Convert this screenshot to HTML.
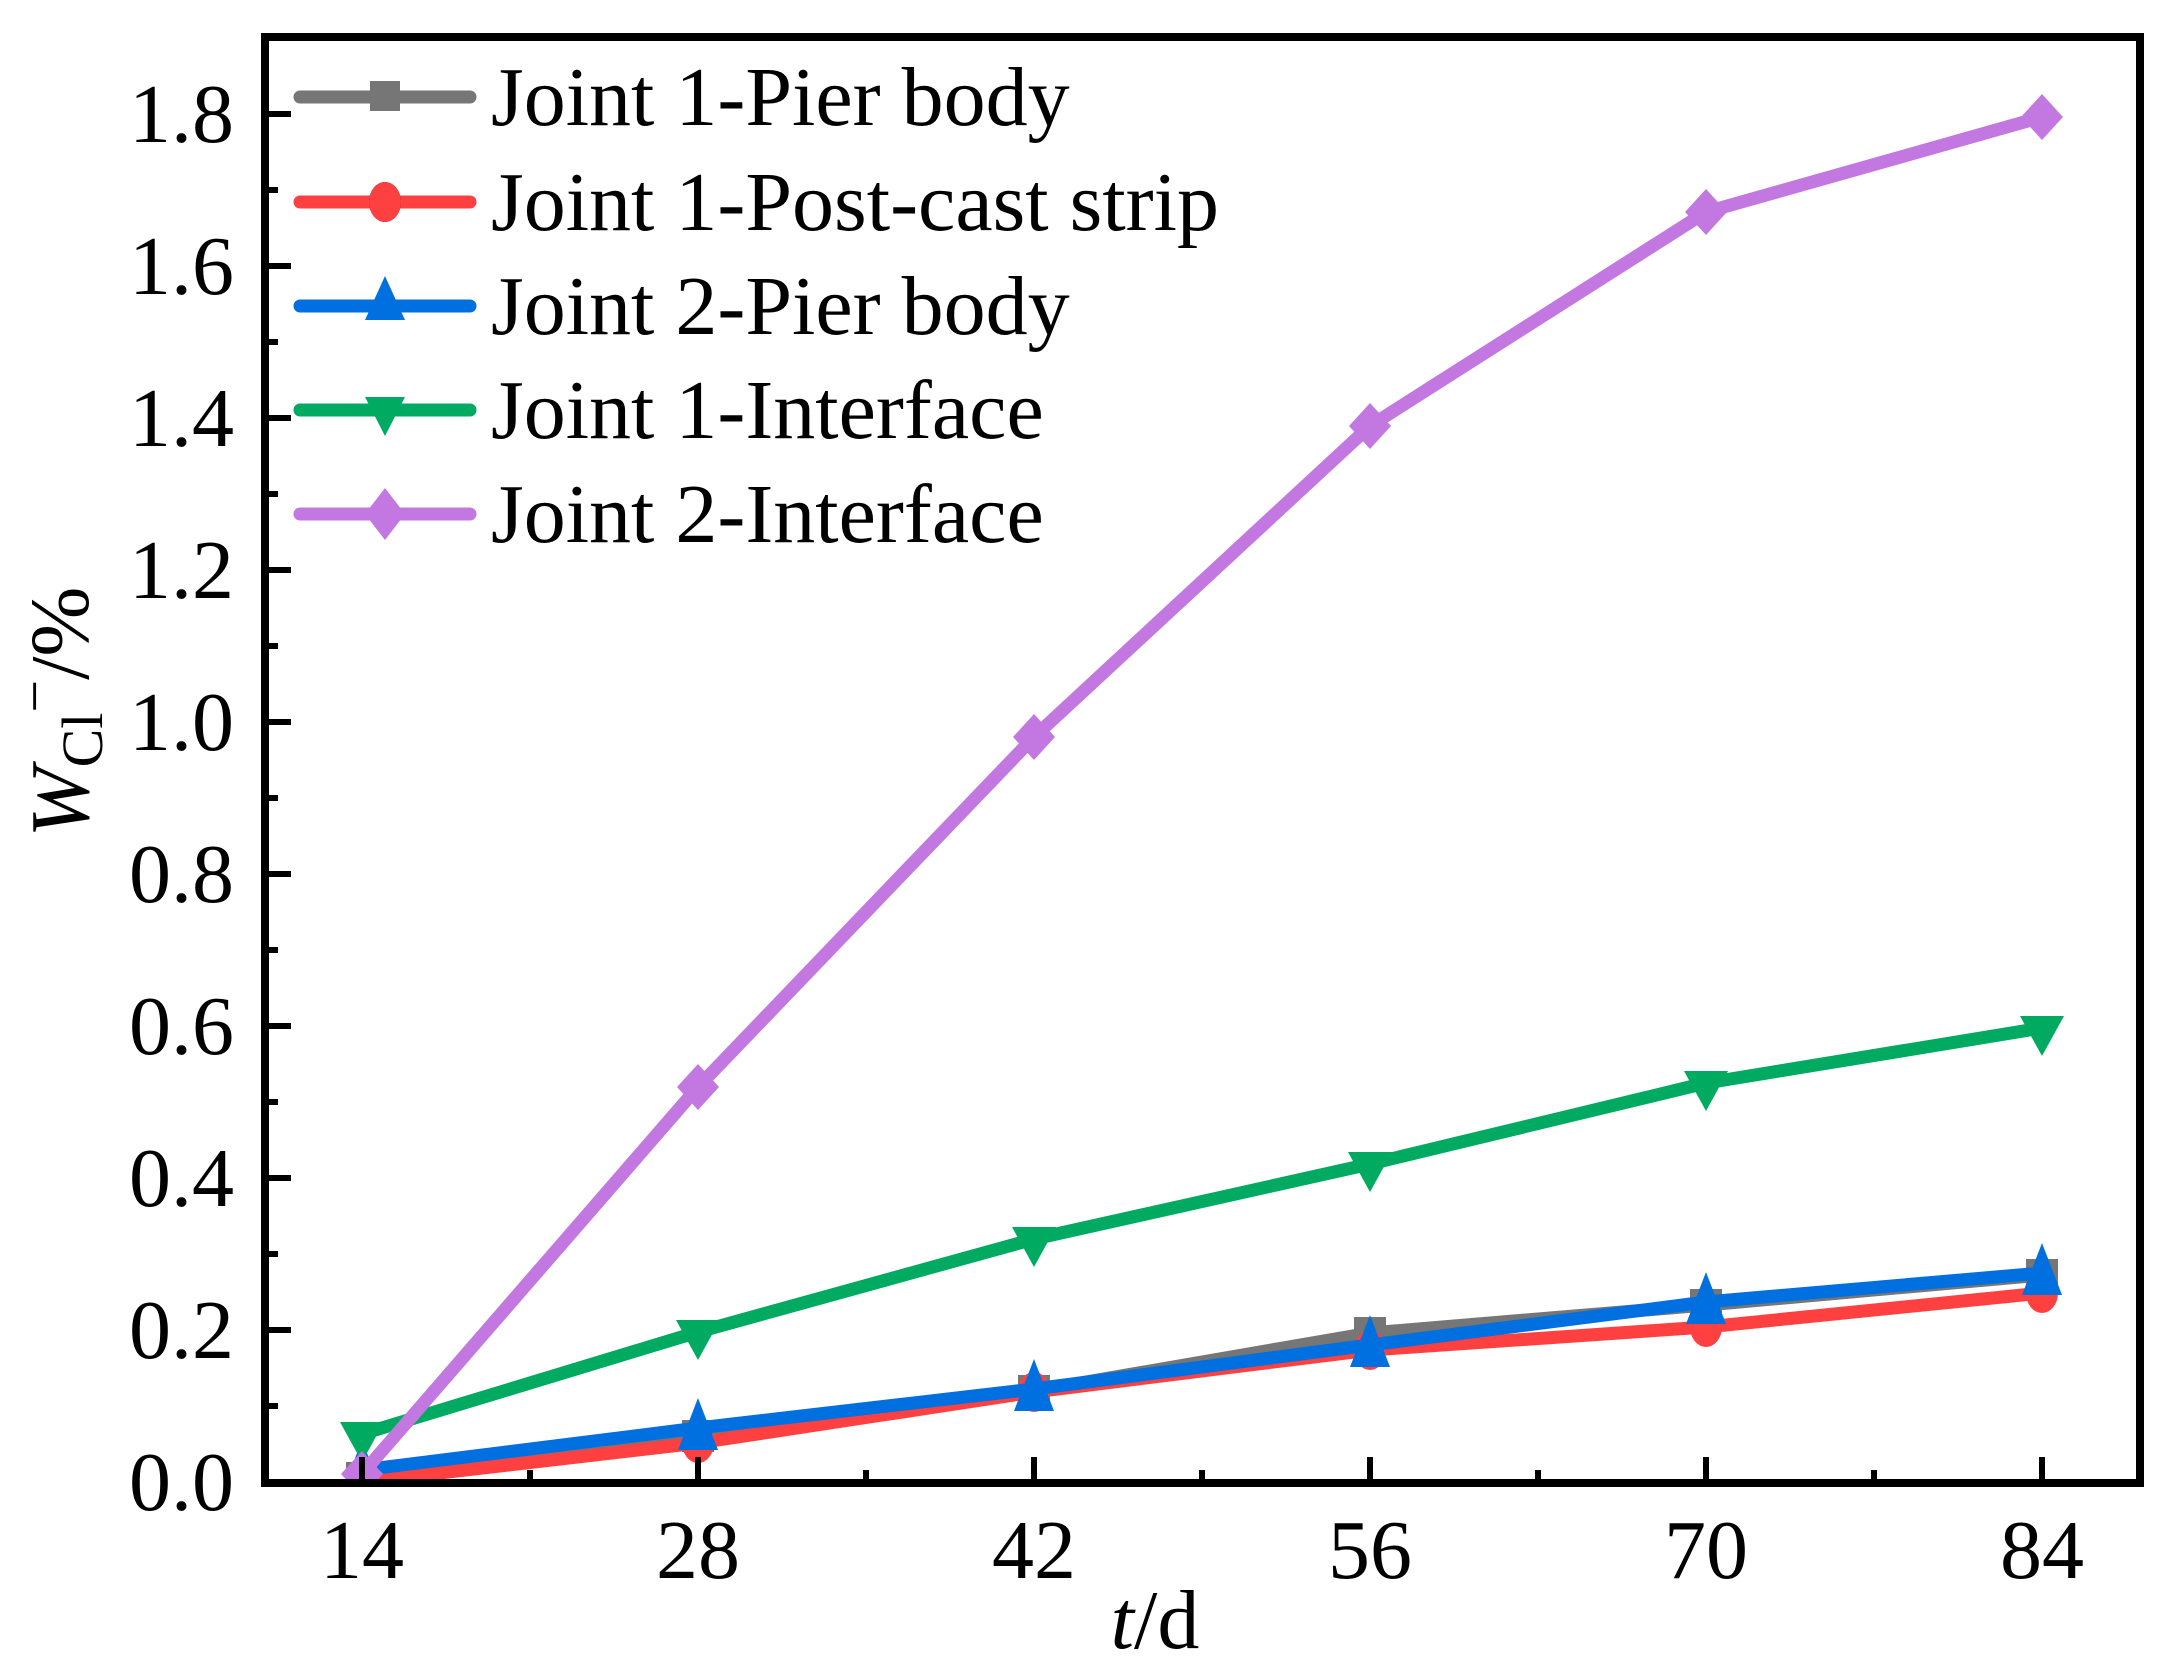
<!DOCTYPE html>
<html><head><meta charset="utf-8"><style>
html,body{margin:0;padding:0;background:#fff;}
svg{display:block;}
text{font-family:"Liberation Serif",serif;fill:#000;}
</style></head><body>
<svg width="2168" height="1677" viewBox="0 0 2168 1677" xmlns="http://www.w3.org/2000/svg">
<defs>
<clipPath id="c"><rect x="265" y="37" width="1875" height="1446"/></clipPath>
</defs>
<g clip-path="url(#c)" stroke-linejoin="round" stroke-linecap="round" fill="none" stroke-width="13">
<polyline stroke="#767676" points="362,1478 698,1436 1034,1391 1370,1333 1706,1305 2042,1275"/>
<g fill="#767676" stroke="none">
<rect x="346" y="1462" width="32" height="32"/><rect x="682" y="1420" width="32" height="32"/><rect x="1018" y="1375" width="32" height="32"/><rect x="1354" y="1317" width="32" height="32"/><rect x="1690" y="1289" width="32" height="32"/><rect x="2026" y="1259" width="32" height="32"/>
</g>
<polyline stroke="#ff4040" points="362,1482 698,1443 1034,1392 1370,1350 1706,1327 2042,1293"/>
<g fill="#ff4040" stroke="none">
<ellipse cx="362" cy="1482" rx="16" ry="20"/><ellipse cx="698" cy="1443" rx="16" ry="20"/><ellipse cx="1034" cy="1392" rx="16" ry="20"/><ellipse cx="1370" cy="1350" rx="16" ry="20"/><ellipse cx="1706" cy="1327" rx="16" ry="20"/><ellipse cx="2042" cy="1293" rx="16" ry="20"/>
</g>
<polyline stroke="#0070e0" points="362,1470 698,1428 1034,1389 1370,1345 1706,1302 2042,1273"/>
<g fill="#0070e0" stroke="none">
<polygon points="362,1440 342,1492 382,1492"/><polygon points="698,1398 678,1450 718,1450"/><polygon points="1034,1359 1014,1411 1054,1411"/><polygon points="1370,1315 1350,1367 1390,1367"/><polygon points="1706,1272 1686,1324 1726,1324"/><polygon points="2042,1243 2022,1295 2062,1295"/>
</g>
<polyline stroke="#00aa60" points="362,1434 698,1332 1034,1239 1370,1164 1706,1083 2042,1028"/>
<g fill="#00aa60" stroke="none">
<polygon points="362,1462 340,1422 384,1422"/><polygon points="698,1360 676,1320 720,1320"/><polygon points="1034,1267 1012,1227 1056,1227"/><polygon points="1370,1192 1348,1152 1392,1152"/><polygon points="1706,1111 1684,1071 1728,1071"/><polygon points="2042,1056 2020,1016 2064,1016"/>
</g>
<polyline stroke="#c278e0" points="362,1474 698,1087 1034,737 1370,426 1706,212 2042,117"/>
<g fill="#c278e0" stroke="none">
<polygon points="362,1451 383,1474 362,1497 341,1474"/><polygon points="698,1064 719,1087 698,1110 677,1087"/><polygon points="1034,714 1055,737 1034,760 1013,737"/><polygon points="1370,403 1391,426 1370,449 1349,426"/><polygon points="1706,189 1727,212 1706,235 1685,212"/><polygon points="2042,94 2063,117 2042,140 2021,117"/>
</g>
</g>
<rect x="265" y="37" width="1875" height="1446" fill="none" stroke="#000" stroke-width="8"/>
<g stroke="#000" stroke-width="6">
<line x1="265" y1="1482" x2="291" y2="1482"/><line x1="265" y1="1330" x2="291" y2="1330"/><line x1="265" y1="1178" x2="291" y2="1178"/><line x1="265" y1="1026" x2="291" y2="1026"/><line x1="265" y1="874" x2="291" y2="874"/><line x1="265" y1="722" x2="291" y2="722"/><line x1="265" y1="570" x2="291" y2="570"/><line x1="265" y1="418" x2="291" y2="418"/><line x1="265" y1="266" x2="291" y2="266"/><line x1="265" y1="114" x2="291" y2="114"/>
<line x1="265" y1="1406" x2="278" y2="1406"/><line x1="265" y1="1254" x2="278" y2="1254"/><line x1="265" y1="1102" x2="278" y2="1102"/><line x1="265" y1="950" x2="278" y2="950"/><line x1="265" y1="798" x2="278" y2="798"/><line x1="265" y1="646" x2="278" y2="646"/><line x1="265" y1="494" x2="278" y2="494"/><line x1="265" y1="342" x2="278" y2="342"/><line x1="265" y1="190" x2="278" y2="190"/>
<line x1="362" y1="1483" x2="362" y2="1457"/><line x1="698" y1="1483" x2="698" y2="1457"/><line x1="1034" y1="1483" x2="1034" y2="1457"/><line x1="1370" y1="1483" x2="1370" y2="1457"/><line x1="1706" y1="1483" x2="1706" y2="1457"/><line x1="2042" y1="1483" x2="2042" y2="1457"/>
<line x1="530" y1="1483" x2="530" y2="1470"/><line x1="866" y1="1483" x2="866" y2="1470"/><line x1="1202" y1="1483" x2="1202" y2="1470"/><line x1="1538" y1="1483" x2="1538" y2="1470"/><line x1="1874" y1="1483" x2="1874" y2="1470"/>
</g>
<g font-size="84" text-anchor="end">
<text x="234" y="1510">0.0</text><text x="234" y="1358">0.2</text><text x="234" y="1206">0.4</text><text x="234" y="1054">0.6</text><text x="234" y="902">0.8</text><text x="234" y="750">1.0</text><text x="234" y="598">1.2</text><text x="234" y="446">1.4</text><text x="234" y="294">1.6</text><text x="234" y="142">1.8</text>
</g>
<g font-size="84" text-anchor="middle">
<text x="362" y="1578">14</text><text x="698" y="1578">28</text><text x="1034" y="1578">42</text><text x="1370" y="1578">56</text><text x="1706" y="1578">70</text><text x="2042" y="1578">84</text>
<text x="1155" y="1648"><tspan font-style="italic">t</tspan>/d</text>
</g>
<text transform="translate(88,712) rotate(-90)" text-anchor="middle" font-size="84"><tspan font-style="italic">W</tspan><tspan font-size="58" dy="14">Cl</tspan><tspan font-size="58" dy="-48">−</tspan><tspan dy="34">/%</tspan></text>
<g stroke-width="13" stroke-linecap="round">
<line x1="300" y1="97" x2="470" y2="97" stroke="#767676"/>
<line x1="300" y1="202" x2="470" y2="202" stroke="#ff4040"/>
<line x1="300" y1="306" x2="470" y2="306" stroke="#0070e0"/>
<line x1="300" y1="410" x2="470" y2="410" stroke="#00aa60"/>
<line x1="300" y1="514" x2="470" y2="514" stroke="#c278e0"/>
</g>
<rect x="370" y="81" width="30" height="30" fill="#767676"/>
<ellipse cx="385" cy="202" rx="16" ry="20"/>
<ellipse cx="385" cy="202" rx="16" ry="20" fill="#ff4040"/>
<polygon points="385,276 365,320 405,320" fill="#0070e0"/>
<polygon points="385,436 365,397 405,397" fill="#00aa60"/>
<polygon points="385,488 405,514 385,540 365,514" fill="#c278e0"/>
<g font-size="84">
<text x="491" y="125">Joint 1-Pier body</text>
<text x="491" y="230">Joint 1-Post-cast strip</text>
<text x="491" y="334">Joint 2-Pier body</text>
<text x="491" y="438">Joint 1-Interface</text>
<text x="491" y="542">Joint 2-Interface</text>
</g>
</svg>
</body></html>
